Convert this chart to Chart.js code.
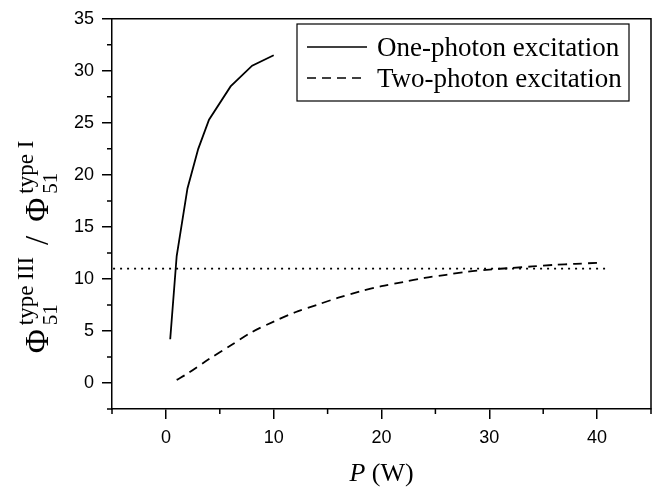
<!DOCTYPE html>
<html>
<head>
<meta charset="utf-8">
<script src="https://cdn.jsdelivr.net/npm/chart.js@4.4.1/dist/chart.umd.min.js"></script>
<style>
  html, body { margin: 0; padding: 0; background: #fff; }
  canvas { display: block; }
</style>
</head>
<body>
<canvas id="chart" width="657" height="494"></canvas>
<script>
// one-photon excitation (solid)
const powerOne = [0.4, 1, 2, 3, 4, 6, 8, 10];
const ratioOne = [4.2, 12.2, 18.7, 22.5, 25.3, 28.5, 30.5, 31.5];

// two-photon excitation (dashed)
const powerTwo = [1, 2, 4, 6, 8, 10, 12, 14, 16, 18, 20, 22, 24, 26, 28, 30, 32, 34, 36, 38, 40];
const ratioTwo = [0.3, 0.9, 2.3, 3.6, 4.9, 5.9, 6.8, 7.5, 8.2, 8.8, 9.3, 9.7, 10.1, 10.4, 10.7, 10.9, 11.05, 11.2, 11.35, 11.45, 11.55];

// dotted reference level
const powerRef = [-4.9, 41];
const ratioRef = [11, 11];

const xTicks = [0, 10, 20, 30, 40];
const yTicks = [0, 5, 10, 15, 20, 25, 30, 35];
const xMinor = [-5, 5, 15, 25, 35, 45];
const yMinor = [-2.5, 2.5, 7.5, 12.5, 17.5, 22.5, 27.5, 32.5];
const seriesLabels = ['One-photon excitation', 'Two-photon excitation'];

const toPoints = (xs, ys) => xs.map((x, i) => ({ x, y: ys[i] }));

const serif = '"Liberation Serif", "Times New Roman", serif';
const sans = '"Liberation Sans", Arial, sans-serif';

const framePlugin = {
    id: 'frame',
    afterDraw(chart) {
        const { ctx, chartArea: a, scales } = chart;
        const xs = scales.x;
        const ys = scales.y;
        ctx.save();
        ctx.strokeStyle = '#000';
        ctx.fillStyle = '#000';
        ctx.lineWidth = 1.5;

        // top and right sides of the box
        ctx.beginPath();
        ctx.moveTo(a.left, a.top);
        ctx.lineTo(a.right, a.top);
        ctx.lineTo(a.right, a.bottom);
        ctx.stroke();

        // minor ticks
        ctx.beginPath();
        xMinor.forEach((v) => {
            const px = xs.getPixelForValue(v);
            ctx.moveTo(px, a.bottom);
            ctx.lineTo(px, a.bottom + 5);
        });
        yMinor.forEach((v) => {
            const py = ys.getPixelForValue(v);
            ctx.moveTo(a.left, py);
            ctx.lineTo(a.left - 5, py);
        });
        ctx.stroke();

        // legend
        ctx.lineWidth = 1.2;
        ctx.strokeRect(297, 24, 332, 77);
        ctx.lineWidth = 1.7;
        ctx.font = `27px ${serif}`;
        ctx.textBaseline = 'alphabetic';
        chart.data.datasets.slice(0, 2).forEach((ds, i) => {
            const y = 47 + i * 31;
            ctx.setLineDash(ds.borderDash || []);
            ctx.beginPath();
            ctx.moveTo(307, y);
            ctx.lineTo(367, y);
            ctx.stroke();
            ctx.setLineDash([]);
            ctx.fillText(seriesLabels[i], 377, y + 9);
        });

        // x title: P (W)
        ctx.font = `italic 26px ${serif}`;
        const pW = ctx.measureText('P').width;
        ctx.font = `26px ${serif}`;
        const restW = ctx.measureText(' (W)').width;
        const cx = (a.left + a.right) / 2;
        const x0 = cx - (pW + restW) / 2;
        ctx.font = `italic 26px ${serif}`;
        ctx.fillText('P', x0, 481);
        ctx.font = `26px ${serif}`;
        ctx.fillText(' (W)', x0 + pW, 481);

        // y title: Phi_51^(type III) / Phi_51^(type I)
        const parts = [
            { sub: '51', sup: 'type III' },
            { slash: true },
            { sub: '51', sup: 'type I' },
        ];
        const big = `33px ${serif}`;
        const supFont = `23px ${serif}`;
        const subFont = `21px ${serif}`;
        const measure = (p) => {
            ctx.font = big;
            if (p.slash) {
                return ctx.measureText('/').width + 26;
            }
            const w = ctx.measureText('\u03A6').width;
            ctx.font = supFont;
            const ws = ctx.measureText(p.sup).width;
            ctx.font = subFont;
            return w + 4 + Math.max(ctx.measureText(p.sub).width, ws);
        };
        const total = parts.reduce((s, p) => s + measure(p), 0);
        ctx.translate(48, 247);
        ctx.rotate(-Math.PI / 2);
        let t = -total / 2;
        parts.forEach((p) => {
            const w = measure(p);
            ctx.font = big;
            if (p.slash) {
                ctx.fillText('/', t + 12, 0);
            } else {
                ctx.fillText('\u03A6', t, 0);
                const pw = ctx.measureText('\u03A6').width + 4;
                ctx.font = supFont;
                ctx.fillText(p.sup, t + pw, -15);
                ctx.font = subFont;
                ctx.fillText(p.sub, t + pw, 9);
            }
            t += w;
        });
        ctx.restore();
    },
};

const axisCommon = {
    type: 'linear',
    border: { display: true, color: '#000', width: 1.5 },
    grid: { drawOnChartArea: false, drawTicks: true, tickLength: 10, color: '#000', lineWidth: 1.5 },
};

new Chart(document.getElementById('chart'), {
    type: 'scatter',
    data: {
        datasets: [
            {
                label: seriesLabels[0],
                data: toPoints(powerOne, ratioOne),
                showLine: true,
                borderColor: '#000',
                borderWidth: 1.8,
                pointRadius: 0,
                tension: 0,
            },
            {
                label: seriesLabels[1],
                data: toPoints(powerTwo, ratioTwo),
                showLine: true,
                borderColor: '#000',
                borderWidth: 1.8,
                borderDash: [9, 6],
                pointRadius: 0,
                tension: 0.3,
            },
            {
                label: 'level',
                data: toPoints(powerRef, ratioRef),
                showLine: true,
                borderColor: '#000',
                borderWidth: 1.7,
                borderDash: [2, 5],
                pointRadius: 0,
            },
        ],
    },
    options: {
        responsive: false,
        animation: false,
        devicePixelRatio: 1,
        layout: { padding: { top: 13, right: 6, left: 0, bottom: 0 } },
        plugins: {
            legend: { display: false },
            tooltip: { enabled: false },
        },
        scales: {
            x: {
                ...axisCommon,
                min: -5,
                max: 45,
                afterBuildTicks: (s) => { s.ticks = xTicks.map((v) => ({ value: v })); },
                afterFit: (s) => { s.height = 85; },
                ticks: { color: '#000', padding: 8, maxRotation: 0, font: { family: sans, size: 18 } },
            },
            y: {
                ...axisCommon,
                min: -2.5,
                max: 35,
                afterBuildTicks: (s) => { s.ticks = yTicks.map((v) => ({ value: v })); },
                afterFit: (s) => { s.width = 112; },
                ticks: { color: '#000', padding: 8, font: { family: sans, size: 18 } },
            },
        },
    },
    plugins: [framePlugin],
});
</script>
</body>
</html>
